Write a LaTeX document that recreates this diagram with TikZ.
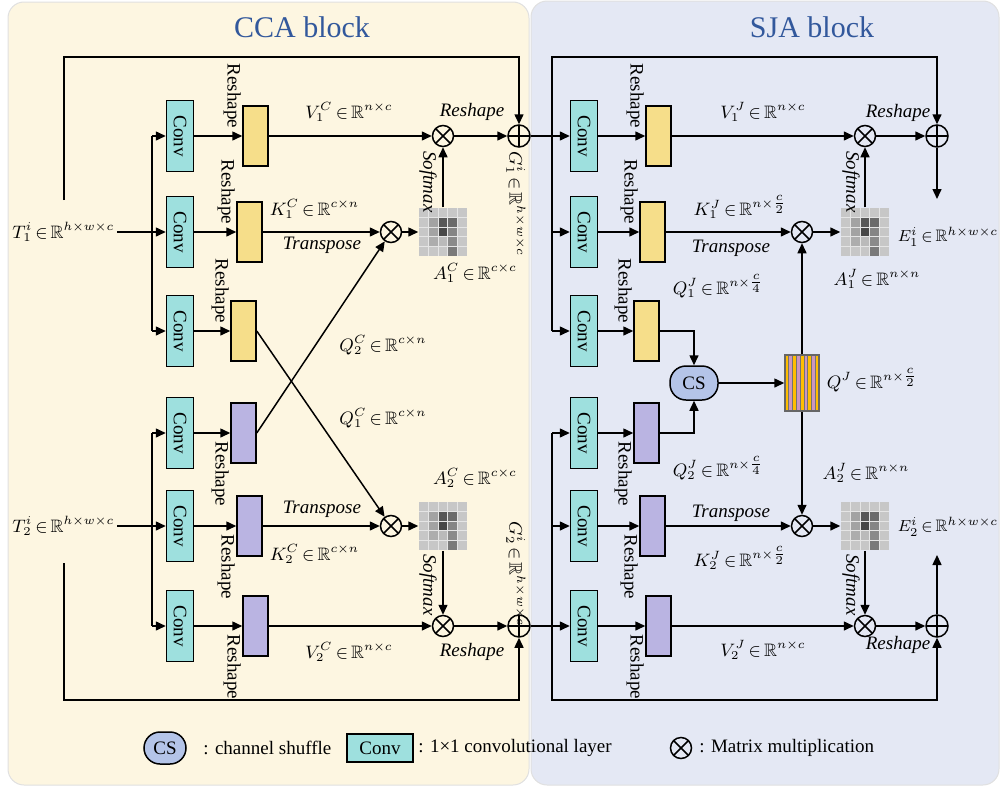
\documentclass[tikz,border=0pt]{standalone}
\usepackage{amsmath, amssymb}
\usepackage{fontspec}
\setmainfont{Liberation Serif}
\usepackage{tikz}
\usetikzlibrary{arrows.meta, calc, positioning}
\usepackage{xcolor}
\definecolor{ccabg}{RGB}{253,246,225}
\definecolor{sjabg}{RGB}{228,232,244}
\definecolor{convcyan}{RGB}{158,224,222}
\definecolor{resyellow}{RGB}{246,222,138}
\definecolor{respurple}{RGB}{186,180,226}
\definecolor{cscolor}{RGB}{180,196,232}
\definecolor{stripeorange}{RGB}{255,190,0}
\definecolor{stripepink}{RGB}{204,150,190}
\definecolor{titleblue}{RGB}{50,88,156}
\newcommand{\inR}{\mathrel{\mkern-2mu\in\mkern-2mu}\mathbb{R}}
\newcommand{\halffrac}[1]{\genfrac{}{}{}{1}{c}{#1}}

\begin{document}
\begin{tikzpicture}[x=0.5pt, y=-0.5pt, line width=0.75pt,
    font=\fontsize{9.5}{11}\selectfont,
    arr/.style={-{Triangle[length=5pt,width=4.5pt]}},
    convbox/.style={draw, fill=convcyan, rotate=-90, minimum width=35.5pt, minimum height=13.5pt, inner sep=0pt},
    convleg/.style={draw, fill=convcyan, minimum width=33pt, minimum height=14pt, inner sep=0pt},
    rsbox/.style={draw, minimum width=12.5pt, minimum height=30pt, inner sep=0pt},
    rshp/.style={rotate=-90, inner sep=1pt},
    oplab/.style={font=\fontsize{9.5}{11}\selectfont\itshape, inner sep=1pt},
    mlab/.style={font=\fontsize{9}{11}\selectfont, inner sep=1pt},
    elab/.style={font=\fontsize{8.3}{10}\selectfont, inner sep=0.5pt},
    blocktitle/.style={font=\fontsize{15}{18}\selectfont, text=titleblue},
    csbox/.style={draw, fill=cscolor, rounded corners=8pt, minimum width=24pt, minimum height=17pt, inner sep=0pt},
    mulop/.style={circle, draw, minimum size=10.5pt, inner sep=0pt, path picture={
        \draw (path picture bounding box.north west) -- (path picture bounding box.south east)
              (path picture bounding box.north east) -- (path picture bounding box.south west);}},
    addop/.style={circle, draw, minimum size=11pt, inner sep=0pt, path picture={
        \draw (path picture bounding box.north) -- (path picture bounding box.south)
              (path picture bounding box.west) -- (path picture bounding box.east);}},
    heat/.style={minimum size=24pt, inner sep=0pt, fill=black!22, path picture={
        \foreach \c/\r/\s in {1/1/36,2/1/66,3/1/58,1/2/36,2/2/72,3/2/48,1/3/32,2/3/27,3/3/46,3/4/52}
          \fill[black!\s] ($(path picture bounding box.north west)+(\c*4.8pt,-\r*4.8pt)$) rectangle ++(4.8pt,-4.8pt);
        \foreach \k in {1,...,4} {
          \draw[black!10, line width=0.5pt] ($(path picture bounding box.north west)+(\k*4.8pt,0pt)$) -- ++(0pt,-24pt);
          \draw[black!10, line width=0.5pt] ($(path picture bounding box.north west)+(0pt,-\k*4.8pt)$) -- ++(24pt,0pt);
        }}},
    qstripe/.style={draw=black!60, fill=stripepink, minimum width=17pt, minimum height=28pt, inner sep=0pt, path picture={
        \foreach \i in {0,2,4,6,8}
          \fill[stripeorange] ($(path picture bounding box.south west)+(\i*1.889pt,0pt)$) rectangle ++(1.889pt,28pt);
        \foreach \i in {1,...,8}
          \draw[black!55, line width=0.3pt] ($(path picture bounding box.south west)+(\i*1.889pt,0pt)$) -- ++(0pt,28pt);
        }}]

    \useasboundingbox (0,0) rectangle (1000,787);

    % 背景
    \filldraw[fill=ccabg, draw=black!12, line width=0.5pt, rounded corners=8pt] (8,2) rectangle (529,785);
    \filldraw[fill=sjabg, draw=black!12, line width=0.5pt, rounded corners=8pt] (531,1) rectangle (999,785);
    \node[blocktitle] (ttlA) at (302,27) {CCA block};
    \node[blocktitle] (ttlB) at (812,27) {SJA block};

    % CCA 输入
    \node[mlab, anchor=east] (tA1) at (117,232) {$T_1^{i}\inR^{h\times w\times c}$};
    \node[mlab, anchor=east] (tA2) at (117,526) {$T_2^{i}\inR^{h\times w\times c}$};

    % Conv 与 Reshape
    \foreach \k/\y in {1/136,2/232,3/331,4/433,5/526,6/626} {
        \node[convbox] (convA\k) at (180,\y) {Conv};
        \node[convbox] (convB\k) at (584,\y) {Conv};
    }
    \foreach \k/\x/\y/\c in {1/255.5/136/resyellow, 2/249.5/232/resyellow, 3/243.5/331/resyellow,
                             4/243.5/433/respurple, 5/249.5/526/respurple, 6/255.5/626/respurple} {
        \node[rsbox, fill=\c] (resA\k) at (\x,\y) {};
        \pgfmathsetmacro{\xb}{\x+403}
        \node[rsbox, fill=\c] (resB\k) at (\xb,\y) {};
        \draw[arr] (convA\k) -- (resA\k);
        \draw[arr] (convB\k) -- (resB\k);
    }
    \foreach \k in {1,2,3} {
        \node[rshp, anchor=east] at ($(resA\k.west)+(-10,-5)$) {Reshape};
        \node[rshp, anchor=east] at ($(resB\k.west)+(-10,-5)$) {Reshape};
    }
    \foreach \k in {4,5,6} {
        \node[rshp, anchor=west] at ($(resA\k.west)+(-10,6)$) {Reshape};
        \node[rshp, anchor=west] at ($(resB\k.west)+(-10,6)$) {Reshape};
    }

    % CCA 分支
    \coordinate (brA1) at (152,136);
    \coordinate (brA3) at (152,331);
    \coordinate (brA4) at (152,433);
    \coordinate (brA6) at (152,626);
    \draw (brA1) -- (brA3);
    \draw (brA4) -- (brA6);
    \draw[arr] (brA1) -- (convA1);
    \draw[arr] (brA3) -- (convA3);
    \draw[arr] (brA4) -- (convA4);
    \draw[arr] (brA6) -- (convA6);
    \draw[arr] (tA1) -- (convA2);
    \draw[arr] (tA2) -- (convA5);

    % CCA 运算
    \node[mulop] (mulA1) at (443,136) {};
    \node[mulop] (mulA2) at (391,232) {};
    \node[heat] (heatA1) at (443,232) {};
    \node[mulop] (mulA4) at (391,526) {};
    \node[heat] (heatA2) at (443,526) {};
    \node[mulop] (mulA5) at (443,626) {};
    \node[addop] (addA1) at (519,136) {};
    \node[addop] (addA2) at (519,626) {};

    \draw[arr] (resA1) -- (mulA1);
    \draw[arr] (resA2) -- (mulA2);
    \draw[arr] (mulA2) -- (heatA1);
    \draw[arr] (heatA1) -- (mulA1);
    \draw[arr] (mulA1) -- (addA1);
    \draw[arr] (resA3.east) -- (mulA4);
    \draw[arr] (resA4.east) -- (mulA2);
    \draw[arr] (resA5) -- (mulA4);
    \draw[arr] (mulA4) -- (heatA2);
    \draw[arr] (heatA2) -- (mulA5);
    \draw[arr] (resA6) -- (mulA5);
    \draw[arr] (mulA5) -- (addA2);

    % CCA 残差
    \coordinate (skA1) at (64,200);
    \coordinate (skA2) at (64,57);
    \coordinate (skA3) at (64,563);
    \coordinate (skA4) at (64,700);
    \draw[arr] (skA1) -- (skA2) -| (addA1);
    \draw[arr] (skA3) -- (skA4) -| (addA2);

    % CCA 标注
    \node[mlab] (vA1) at (349,112) {$V_1^{C}\inR^{n\times c}$};
    \node[mlab, anchor=west] (kA1) at (267,209) {$K_1^{C}\inR^{c\times n}$};
    \node[oplab] (trA1) at (322,245) {Transpose};
    \node[oplab] (rsA1) at (472,112) {Reshape};
    \node[oplab, rotate=-90] (smA1) at (428,182) {Softmax};
    \node[mlab] (aA1) at (475,273) {$A_1^{C}\inR^{c\times c}$};
    \node[mlab, rotate=-90] (gA1) at (516,204) {$G_1^{i}\inR^{h\times w\times c}$};
    \node[mlab] (qA2) at (383,345) {$Q_2^{C}\inR^{c\times n}$};
    \node[mlab] (qA1) at (383,418) {$Q_1^{C}\inR^{c\times n}$};
    \node[mlab] (aA2) at (475,478) {$A_2^{C}\inR^{c\times c}$};
    \node[oplab] (trA2) at (322,509) {Transpose};
    \node[mlab, anchor=west] (kA2) at (267,554) {$K_2^{C}\inR^{c\times n}$};
    \node[oplab, rotate=-90] (smA2) at (428,585) {Softmax};
    \node[mlab, rotate=-90] (gA2) at (516,574) {$G_2^{i}\inR^{h\times w\times c}$};
    \node[mlab] (vA2) at (349,652) {$V_2^{C}\inR^{n\times c}$};
    \node[oplab] (rsA2) at (472,652) {Reshape};

    % SJA 分支
    \coordinate (brB3) at (552,331);
    \coordinate (brB2) at (552,232);
    \coordinate (skB1) at (552,57);
    \coordinate (brB4) at (552,433);
    \coordinate (brB5) at (552,526);
    \coordinate (skB2) at (552,700);
    \draw[arr] (addA1) -- (convB1);
    \draw[arr] (addA2) -- (convB6);
    \draw[arr] (brB2) -- (convB2);
    \draw[arr] (brB3) -- (convB3);
    \draw[arr] (brB4) -- (convB4);
    \draw[arr] (brB5) -- (convB5);

    % SJA 运算
    \node[mulop] (mulB1) at (865,136) {};
    \node[mulop] (mulB2) at (802,232) {};
    \node[heat] (heatB1) at (865,232) {};
    \node[csbox] (csop) at (694,383) {CS};
    \node[qstripe] (qbox) at (802,383) {};
    \node[mulop] (mulB4) at (802,526) {};
    \node[heat] (heatB2) at (865,526) {};
    \node[mulop] (mulB5) at (865,626) {};
    \node[addop] (addB1) at (937,136) {};
    \node[addop] (addB2) at (937,626) {};
    \coordinate (outB1) at (937,199);
    \coordinate (outB2) at (937,555);

    \draw[arr] (resB1) -- (mulB1);
    \draw[arr] (resB2) -- (mulB2);
    \draw[arr] (mulB2) -- (heatB1);
    \draw[arr] (heatB1) -- (mulB1);
    \draw[arr] (mulB1) -- (addB1);
    \draw[arr] (addB1) -- (outB1);
    \draw[arr] (resB3.east) -| (csop);
    \draw[arr] (resB4.east) -| (csop);
    \draw[arr] (csop) -- (qbox);
    \draw[arr] (qbox) -- (mulB2);
    \draw[arr] (qbox) -- (mulB4);
    \draw[arr] (resB5) -- (mulB4);
    \draw[arr] (mulB4) -- (heatB2);
    \draw[arr] (heatB2) -- (mulB5);
    \draw[arr] (resB6) -- (mulB5);
    \draw[arr] (mulB5) -- (addB2);
    \draw[arr] (addB2) -- (outB2);

    % SJA 残差
    \draw[arr] (brB3) -- (skB1) -| (addB1);
    \draw[arr] (brB4) -- (skB2) -| (addB2);

    % SJA 标注
    \node[mlab] (vB1) at (763,112) {$V_1^{J}\inR^{n\times c}$};
    \node[oplab] (rsB1) at (898,113) {Reshape};
    \node[mlab] (kB1) at (740,207) {$K_1^{J}\inR^{n\times\halffrac{2}}$};
    \node[oplab] (trB1) at (731,248) {Transpose};
    \node[oplab, rotate=-90] (smB1) at (851,182) {Softmax};
    \node[elab, anchor=west] (eB1) at (896,237) {$E_1^{i}\inR^{h\times w\times c}$};
    \node[mlab] (aB1) at (877,279) {$A_1^{J}\inR^{n\times n}$};
    \node[mlab] (qB1) at (718,286) {$Q_1^{J}\inR^{n\times\halffrac{4}}$};
    \node[mlab, anchor=west] (qB) at (824,380) {$Q^{J}\inR^{n\times\halffrac{2}}$};
    \node[mlab] (qB2) at (718,468) {$Q_2^{J}\inR^{n\times\halffrac{4}}$};
    \node[mlab] (aB2) at (866,473) {$A_2^{J}\inR^{n\times n}$};
    \node[oplab] (trB2) at (731,513) {Transpose};
    \node[elab, anchor=west] (eB2) at (896,527) {$E_2^{i}\inR^{h\times w\times c}$};
    \node[mlab] (kB2) at (740,558) {$K_2^{J}\inR^{n\times\halffrac{2}}$};
    \node[oplab, rotate=-90] (smB2) at (851,585) {Softmax};
    \node[mlab] (vB2) at (763,650) {$V_2^{J}\inR^{n\times c}$};
    \node[oplab] (rsB2) at (898,645) {Reshape};

    % 图例
    \node[csbox, minimum width=21pt, minimum height=16pt] (legCS) at (165,748) {CS};
    \node[anchor=west] (legCStx) at (196,748) {: channel shuffle};
    \node[convleg] (legConv) at (380,748) {Conv};
    \node[anchor=west] (legConvtx) at (411,748) {: 1×1 convolutional layer};
    \node[mulop] (legMul) at (681,748) {};
    \node[anchor=west] (legMultx) at (692,748) {: Matrix multiplication};
\end{tikzpicture}
\end{document}
